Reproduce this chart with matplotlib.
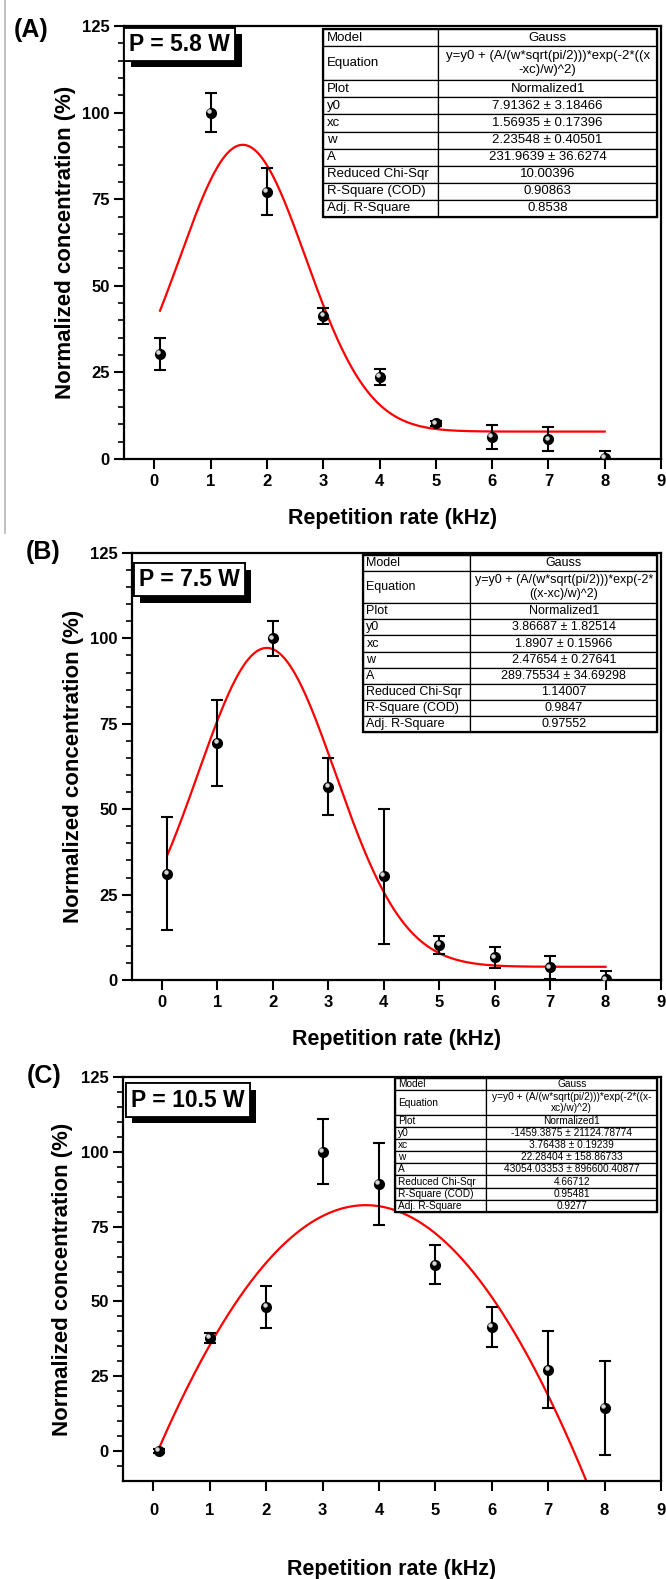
import numpy as np
import matplotlib.pyplot as plt
from matplotlib import patheffects
from matplotlib.lines import Line2D
from matplotlib.patches import Rectangle
from matplotlib.transforms import ScaledTranslation

plt.rcParams['font.family'] = ['Liberation Sans', 'DejaVu Sans']

# repetition rate (kHz)
rate = [0.1, 1, 2, 3, 4, 5, 6, 7, 8]

# normalized concentration (%) and error bars
conc_a = [30.3, 100, 77.2, 41.3, 23.7, 10.3, 6.4, 5.7, 0.3]
err_a = [4.5, 5.6, 6.7, 2.4, 2.4, 0.8, 3.5, 3.4, 2.1]
conc_b = [31.1, 69.4, 100, 56.6, 30.4, 10.3, 6.6, 3.7, 0.2]
err_b = [16.5, 12.5, 5.2, 8.3, 19.8, 2.7, 3.2, 3.3, 2.5]
conc_c = [0, 37.9, 48.1, 100, 89.3, 62.2, 41.5, 27.2, 14.4]
err_c = [0.8, 1.7, 7.1, 10.8, 13.8, 6.5, 6.8, 12.9, 15.8]

# Gauss fit parameters (y0, xc, w, A) from the fit tables
fit_a = [7.91362, 1.56935, 2.23548, 231.9639]
fit_b = [3.86687, 1.8907, 2.47654, 289.75534]
fit_c = [-1459.3875, 3.76438, 22.28404, 43054.03353]

powers = ['P = 5.8 W', 'P = 7.5 W', 'P = 10.5 W']
panel_names = ['(A)', '(B)', '(C)']

table_labels = ['Model', 'Equation', 'Plot', 'y0', 'xc', 'w', 'A',
                'Reduced Chi-Sqr', 'R-Square (COD)', 'Adj. R-Square']
table_a = ['Gauss', 'y=y0 + (A/(w*sqrt(pi/2)))*exp(-2*((x\n-xc)/w)^2)', 'Normalized1',
           '7.91362 ± 3.18466', '1.56935 ± 0.17396', '2.23548 ± 0.40501',
           '231.9639 ± 36.6274', '10.00396', '0.90863', '0.8538']
table_b = ['Gauss', 'y=y0 + (A/(w*sqrt(pi/2)))*exp(-2*\n((x-xc)/w)^2)', 'Normalized1',
           '3.86687 ± 1.82514', '1.8907 ± 0.15966', '2.47654 ± 0.27641',
           '289.75534 ± 34.69298', '1.14007', '0.9847', '0.97552']
table_c = ['Gauss', 'y=y0 + (A/(w*sqrt(pi/2)))*exp(-2*((x-\nxc)/w)^2)', 'Normalized1',
           '-1459.3875 ± 21124.78774', '3.76438 ± 0.19239', '22.28404 ± 158.86733',
           '43054.03353 ± 896600.40877', '4.66712', '0.95481', '0.9277']

W, H = 666, 1579
fig = plt.figure(figsize=(W / 100, H / 100), dpi=100)


def add_axes_px(left, right, top, bottom):
    return fig.add_axes([left / W, 1 - bottom / H, (right - left) / W, (bottom - top) / H])


def gauss(x, y0, xc, w, A):
    return y0 + (A / (w * np.sqrt(np.pi / 2))) * np.exp(-2 * ((x - xc) / w) ** 2)


def draw_table(ax, values, bbox, col_frac, fs):
    cells = [[lab, val] for lab, val in zip(table_labels, values)]
    tb = ax.table(cellText=cells, bbox=bbox, cellLoc='center',
                  colWidths=[col_frac, 1 - col_frac], zorder=5)
    tb.auto_set_font_size(False)
    tb.set_fontsize(fs)
    for (r, c), cell in tb.get_celld().items():
        cell.set_linewidth(0.9)
        cell.set_edgecolor('black')
        cell.PAD = 0.03
        if r == 1:
            cell.set_height(cell.get_height() * 2)
        if c == 0:
            cell._loc = 'left'
            cell.get_text().set_horizontalalignment('left')
    ax.add_patch(Rectangle((bbox[0], bbox[1]), bbox[2], bbox[3], transform=ax.transAxes,
                           fill=False, lw=1.6, edgecolor='black', zorder=6))


def draw_panel(ax, conc, err, fit, table_vals, tbbox, col_frac, tfs, ymin, pbox_xy, power, xpad):
    xs = np.linspace(0.1, 8, 400)
    ax.plot(xs, gauss(xs, *fit), color='red', lw=1.6, zorder=2)
    ax.errorbar(rate, conc, yerr=err, fmt='o', color='black', ms=7, capsize=4,
                elinewidth=1.5, capthick=1.5, zorder=3)
    shift = ScaledTranslation(-1.2 / 72, 1.2 / 72, fig.dpi_scale_trans)
    ax.plot(rate, conc, 'o', color='#d8d8d8', ms=2.2, transform=ax.transData + shift, zorder=4)

    ax.set_xlim(-0.54, 9)
    ax.set_ylim(ymin, 125)
    ax.set_xticks(range(10))
    ax.set_yticks([t for t in range(0, 126, 25)])
    ax.set_yticks([t for t in range(-5 if ymin < 0 else 5, 125, 5) if t % 25 != 0], minor=True)
    for s in ax.spines.values():
        s.set_linewidth(1.6)
    ax.tick_params(axis='both', which='major', direction='out', length=7, width=1.5,
                   labelsize=12)
    ax.tick_params(axis='x', which='major', pad=xpad)
    ax.tick_params(axis='y', which='minor', direction='out', length=4, width=1.2)
    for lab in ax.get_xticklabels() + ax.get_yticklabels():
        lab.set_fontweight('bold')

    ax.set_xlabel('Repetition rate (kHz)', fontsize=15.5, fontweight='bold')
    ax.set_ylabel('Normalized concentration (%)', fontsize=16, fontweight='bold')

    draw_table(ax, table_vals, tbbox, col_frac, tfs)

    t = ax.text(pbox_xy[0], pbox_xy[1], power, transform=ax.transAxes, ha='center', va='center',
                fontsize=16.5, fontweight='bold', zorder=7,
                bbox=dict(boxstyle='square,pad=0.22', facecolor='white', edgecolor='black', lw=1.3))
    t.get_bbox_patch().set_path_effects([
        patheffects.withSimplePatchShadow(offset=(4.5, -4.5), shadow_rgbFace='black', alpha=1.0),
        patheffects.Normal()])


ax_a = add_axes_px(124, 661, 26, 459)
ax_b = add_axes_px(132, 661, 553, 980)
ax_c = add_axes_px(123, 661, 1077, 1481)

draw_panel(ax_a, conc_a, err_a, fit_a, table_a, [0.371, 0.559, 0.622, 0.434], 0.344, 9.5,
           0, (0.104, 0.958), powers[0], 3.5)
draw_panel(ax_b, conc_b, err_b, fit_b, table_b, [0.437, 0.581, 0.556, 0.414], 0.364, 9,
           0, (0.108, 0.937), powers[1], 3.5)
draw_panel(ax_c, conc_c, err_c, fit_c, table_c, [0.506, 0.666, 0.487, 0.331], 0.347, 7.3,
           -10, (0.121, 0.943), powers[2], 9)

ax_a.yaxis.set_label_coords(-0.089, 0.5)
ax_b.yaxis.set_label_coords(-0.091, 0.5)
ax_c.yaxis.set_label_coords(-0.093, 0.5)
ax_a.xaxis.set_label_coords(0.5, -0.113)
ax_b.xaxis.set_label_coords(0.5, -0.115)
ax_c.xaxis.set_label_coords(0.5, -0.194)

for name, (px, py) in zip(panel_names, [(31, 30), (43, 552), (44, 1076)]):
    fig.text(px / W, 1 - py / H, name, ha='center', va='center', fontsize=18, fontweight='bold')

# thin gray border left over from the original panel crop
fig.add_artist(Line2D([5 / W, 5 / W], [1, 1 - 533 / H], color='#b5b5b5', lw=1.2))

fig.savefig('out.png', dpi=100)
